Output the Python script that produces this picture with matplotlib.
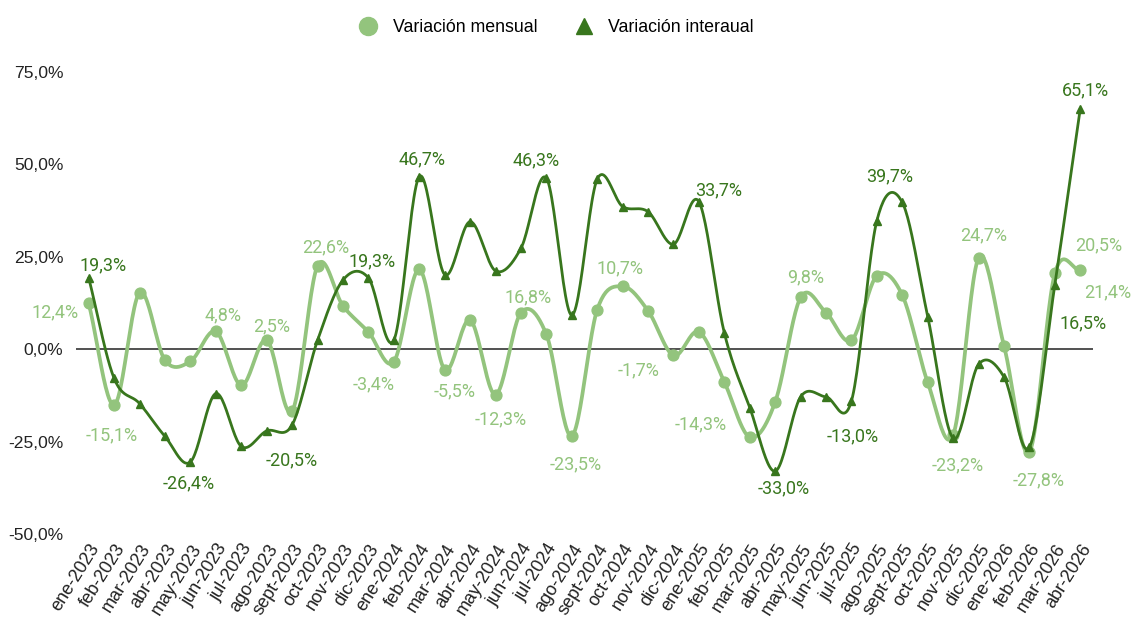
import numpy as np
import matplotlib
matplotlib.use("Agg")
import matplotlib.pyplot as plt
from matplotlib.lines import Line2D
from matplotlib.ticker import FuncFormatter

# ---------------- data ----------------
months = ["ene-2023", "feb-2023", "mar-2023", "abr-2023", "may-2023", "jun-2023",
          "jul-2023", "ago-2023", "sept-2023", "oct-2023", "nov-2023", "dic-2023",
          "ene-2024", "feb-2024", "mar-2024", "abr-2024", "may-2024", "jun-2024",
          "jul-2024", "ago-2024", "sept-2024", "oct-2024", "nov-2024", "dic-2024",
          "ene-2025", "feb-2025", "mar-2025", "abr-2025", "may-2025", "jun-2025",
          "jul-2025", "ago-2025", "sept-2025", "oct-2025", "nov-2025", "dic-2025",
          "ene-2026", "feb-2026", "mar-2026", "abr-2026"]

mensual = [12.4, -15.1, 15.3, -3.0, -3.3, 4.8, -9.8, 2.5, -16.8, 22.6, 11.7, 4.7,
           -3.4, 21.6, -5.5, 7.9, -12.3, 9.9, 4.0, -23.5, 10.7, 17.0, 10.4, -1.7,
           4.7, -8.9, -23.8, -14.3, 14.0, 9.9, 2.4, 19.9, 14.6, -9.0, -23.2, 24.7,
           0.9, -27.8, 20.5, 21.4]

interanual = [19.3, -7.9, -14.7, -23.6, -30.5, -12.0, -26.3, -22.1, -20.5, 2.4, 18.7, 19.3,
              2.4, 46.7, 20.2, 34.5, 21.2, 27.3, 46.3, 9.2, 46.0, 38.6, 37.2, 28.4,
              39.9, 4.4, -15.8, -33.0, -12.9, -12.9, -14.0, 34.8, 39.7, 8.8, -24.1, -4.1,
              -7.5, -26.5, 17.5, 65.1]

series_names = ["Variación mensual", "Variación interaual"]
y_ticks = [-50, -25, 0, 25, 50, 75]

# data labels shown in the chart: (month index, text)
labels_mensual = [(0, "12,4%"), (1, "-15,1%"), (5, "4,8%"), (7, "2,5%"), (9, "22,6%"),
                  (12, "-3,4%"), (14, "-5,5%"), (16, "-12,3%"), (17, "16,8%"),
                  (19, "-23,5%"), (21, "10,7%"), (23, "-1,7%"), (24, "-14,3%"),
                  (28, "9,8%"), (34, "-23,2%"), (35, "24,7%"), (37, "-27,8%"),
                  (39, "20,5%"), (39, "21,4%")]
labels_interanual = [(0, "19,3%"), (4, "-26,4%"), (8, "-20,5%"), (11, "19,3%"),
                     (13, "46,7%"), (18, "46,3%"), (24, "33,7%"), (27, "-33,0%"),
                     (30, "-13,0%"), (32, "39,7%"), (38, "16,5%"), (39, "65,1%")]

# ---------------- style ----------------
LIGHT = "#93c47d"
DARK = "#38761d"
# label offsets in pixels (dx, dy up)
off_mensual = [(-34, -9), (-2, -30), (7, 16), (5, 14), (8, 18), (-20, -23), (10, -22),
               (5, -25), (7, 15), (4, -28), (-3, 18), (-35, -15), (2, -93), (5, 20),
               (5, -30), (5, 23), (9, -28), (18, 25), (27, -22)]
off_interanual = [(14, 13), (-2, -21), (0, -35), (4, 17), (3, 17), (-10, 18), (20, 11),
                  (8, -17), (1, -35), (-13, 26), (28, -39), (5, 18)]

W, H = 1131, 619
fig = plt.figure(figsize=(W / 100, H / 100), dpi=100)
ax = fig.add_axes([76 / W, 1 - 534 / H, (1093 - 76) / W, (534 - 72) / H])


def catmull_rom(xs, ys, n=24):
    xs = np.asarray(xs, float)
    ys = np.asarray(ys, float)
    px = np.concatenate([[2 * xs[0] - xs[1]], xs, [2 * xs[-1] - xs[-2]]])
    py = np.concatenate([[2 * ys[0] - ys[1]], ys, [2 * ys[-1] - ys[-2]]])
    outx, outy = [], []
    t = np.linspace(0, 1, n, endpoint=False)
    for i in range(1, len(px) - 2):
        for arr, out in ((px, outx), (py, outy)):
            p0, p1, p2, p3 = arr[i - 1], arr[i], arr[i + 1], arr[i + 2]
            out.append(0.5 * ((2 * p1) + (-p0 + p2) * t +
                              (2 * p0 - 5 * p1 + 4 * p2 - p3) * t ** 2 +
                              (-p0 + 3 * p1 - 3 * p2 + p3) * t ** 3))
    outx.append([xs[-1]])
    outy.append([ys[-1]])
    return np.concatenate(outx), np.concatenate(outy)


x = np.arange(len(months))

sx, sy = catmull_rom(x, mensual)
ax.plot(sx, sy, color=LIGHT, lw=2.7, zorder=3, solid_capstyle="round")
ax.plot(x, mensual, "o", color=LIGHT, ms=7.8, zorder=3)

sx2, sy2 = catmull_rom(x, interanual)
ax.plot(sx2, sy2, color=DARK, lw=2.0, zorder=4, solid_capstyle="round")
ax.plot(x, interanual, "^", color=DARK, ms=6, zorder=4)

ax.axhline(0, color="#333333", lw=1.2, zorder=2)

ax.set_xlim(-0.5, len(months) - 0.5)
ax.set_ylim(y_ticks[0], y_ticks[-1])
ax.set_yticks(y_ticks)
ax.yaxis.set_major_formatter(FuncFormatter(lambda v, p: f"{v:.1f}%".replace(".", ",")))
ax.set_xticks(x)
ax.set_xticklabels(months, rotation=58, ha="right", va="top", rotation_mode="anchor",
                   fontsize=13, family="Liberation Sans", color="#222222")
for lab in ax.get_yticklabels():
    lab.set_fontsize(12.6)
    lab.set_family("Liberation Sans")
    lab.set_color("#222222")
ax.tick_params(axis="both", length=0)
ax.tick_params(axis="y", pad=9)
ax.tick_params(axis="x", pad=5)
for s in ax.spines.values():
    s.set_visible(False)

for (i, txt), (dx, dy) in zip(labels_mensual, off_mensual):
    ax.annotate(txt, (x[i], mensual[i]), xytext=(dx * 0.72, dy * 0.72),
                textcoords="offset points", ha="center", va="center",
                color=LIGHT, fontsize=13, family="Roboto", zorder=6)
for (i, txt), (dx, dy) in zip(labels_interanual, off_interanual):
    ax.annotate(txt, (x[i], interanual[i]), xytext=(dx * 0.72, dy * 0.72),
                textcoords="offset points", ha="center", va="center",
                color=DARK, fontsize=13, family="Roboto", zorder=6)

handles = [Line2D([], [], marker="o", color=LIGHT, ls="none", ms=13),
           Line2D([], [], marker="^", color=DARK, ls="none", ms=11)]
fig.legend(handles, series_names, loc="center", bbox_to_anchor=(552 / W, 1 - 28 / H),
           ncol=2, frameon=False, handletextpad=0.4, columnspacing=1.6,
           prop={"family": "Liberation Sans", "size": 12.8})

fig.savefig("out.png", dpi=100)
